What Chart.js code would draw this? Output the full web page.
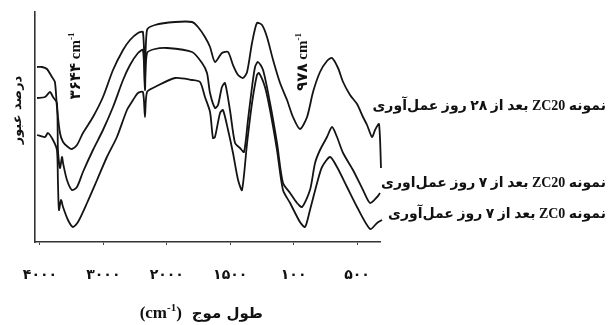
<!DOCTYPE html>
<html lang="fa">
  <head>
    <meta charset="UTF-8" />
    <title>طیف FTIR نمونه‌ها</title>
    <script src="https://cdn.jsdelivr.net/npm/chart.js"></script>
    <style>
      body {
        margin: 0;
        background: #fff;
      }
      #wrap {
        width: 609px;
        height: 325px;
      }
    </style>
  </head>
  <body>
    <div id="wrap"><canvas id="spectrum"></canvas></div>
    <script>
      // نمونه ZC20 بعد از ۲۸ روز
      const zc20d28Waves = [4046, 3968, 3890, 3810, 3764, 3732, 3684, 3636, 3558, 3496, 3416, 3322, 3164, 3006, 2848, 2690, 2580, 2454, 2376, 2344, 2312, 2186, 1935, 1801, 1754, 1699, 1659, 1620, 1565, 1517, 1478, 1438, 1399, 1367, 1328, 1289, 1249, 1210, 1162, 1107, 1052, 1005, 950, 894, 847, 792, 737, 697, 650, 610, 555, 500, 453, 421, 382, 358, 327, 311]
      const zc20d28Trans = [175, 175, 173, 165, 160, 135, 109, 100, 95, 93, 97, 109, 125, 145, 172, 192, 202, 209, 210, 160, 212, 217, 220, 220, 215, 205, 195, 180, 189, 190, 177, 167, 164, 170, 199, 219, 217, 205, 182, 159, 142, 125, 113, 125, 150, 170, 181, 184, 174, 160, 147, 138, 125, 117, 105, 112, 118, 74]

      // نمونه ZC20 بعد از ۷ روز
      const zc20d7Waves = [4046, 3920, 3842, 3794, 3732, 3716, 3684, 3652, 3636, 3574, 3496, 3416, 3322, 3164, 3006, 2848, 2690, 2580, 2454, 2376, 2344, 2312, 2186, 1998, 1801, 1722, 1683, 1659, 1620, 1596, 1565, 1541, 1502, 1462, 1423, 1391, 1360, 1328, 1304, 1281, 1241, 1186, 1131, 1084, 1028, 973, 934, 871, 831, 792, 737, 697, 658, 610, 532, 453, 397, 342, 319]
      const zc20d7Trans = [144, 145, 150, 145, 139, 92, 74, 85, 79, 62, 52, 55, 70, 92, 112, 135, 162, 177, 189, 192, 152, 189, 193, 194, 190, 179, 169, 149, 134, 137, 155, 159, 132, 99, 94, 90, 122, 155, 175, 180, 172, 139, 99, 59, 49, 39, 35, 52, 79, 92, 105, 115, 105, 89, 72, 52, 39, 45, 49]

      // نمونه ZC0 بعد از ۷ روز
      const zc0d7Waves = [4046, 3920, 3874, 3794, 3732, 3716, 3700, 3668, 3636, 3558, 3480, 3400, 3258, 3100, 2944, 2786, 2628, 2532, 2454, 2376, 2344, 2312, 2186, 1935, 1801, 1738, 1699, 1659, 1636, 1620, 1580, 1557, 1517, 1478, 1438, 1407, 1367, 1328, 1289, 1273, 1226, 1186, 1131, 1084, 1028, 950, 910, 871, 815, 776, 713, 658, 579, 500, 397, 342, 303]
      const zc0d7Trans = [107, 105, 109, 102, 92, 59, 32, 42, 35, 22, 15, 20, 39, 62, 85, 105, 132, 142, 149, 150, 125, 150, 155, 164, 162, 160, 145, 130, 104, 105, 129, 132, 112, 89, 62, 52, 99, 139, 167, 169, 155, 132, 92, 52, 39, 20, 15, 32, 59, 75, 85, 75, 55, 35, 13, 19, 22]

      const tickWaves = [4000, 3000, 2000, 1500, 1000, 500]
      const tickLabels = ['۴۰۰۰', '۳۰۰۰', '۲۰۰۰', '۱۵۰۰', '۱۰۰', '۵۰۰']

      const seriesNames = [
        'نمونه ZC20 بعد از ۲۸ روز عمل‌آوری',
        'نمونه ZC20 بعد از ۷ روز عمل‌اوری',
        'نمونه ZC0 بعد از ۷ روز عمل‌آوری',
      ]

      // بالای ۲۰۰۰ محور با نصف مقیاس رسم می‌شود
      function axisPos(w) {
        return w <= 2000 ? w : 2000 + (w - 2000) / 2
      }

      function toPoints(waves, trans) {
        return waves.map((w, i) => ({ x: axisPos(w), y: trans[i] }))
      }

      const serif = '"Liberation Serif", "DejaVu Sans"'

      // متن با cm و توان -1
      function cmText(ctx, before, after, cx, y, size) {
        const main = `bold ${size}px ${serif}`
        const sup = `bold ${Math.round(size * 0.62)}px "Liberation Serif"`
        ctx.direction = 'ltr'
        ctx.textAlign = 'left'
        ctx.font = main
        const a = ctx.measureText(before + 'cm').width
        const c = ctx.measureText(after).width
        ctx.font = sup
        const b = ctx.measureText('-1').width
        const x = cx - (a + b + c) / 2
        ctx.font = main
        ctx.fillText(before + 'cm', x, y)
        ctx.font = sup
        ctx.fillText('-1', x + a, y - size * 0.42)
        ctx.font = main
        ctx.fillText(after, x + a + b, y)
      }

      const notes = {
        id: 'notes',
        afterDraw(chart) {
          const ctx = chart.ctx
          ctx.save()
          ctx.fillStyle = '#111'
          ctx.textBaseline = 'alphabetic'

          // عنوان محور عمودی
          ctx.save()
          ctx.translate(17, 110)
          ctx.rotate(-Math.PI / 2)
          ctx.font = 'bold 13px "DejaVu Sans"'
          ctx.direction = 'rtl'
          ctx.textAlign = 'center'
          ctx.fillText('درصد عبور', 0, 4)
          ctx.restore()

          // برچسب پیک‌ها
          ctx.save()
          ctx.translate(75, 66)
          ctx.rotate(-Math.PI / 2)
          cmText(ctx, '۳۶۴۴ ', '', 0, 5, 15)
          ctx.restore()

          ctx.save()
          ctx.translate(302, 62)
          ctx.rotate(-Math.PI / 2)
          cmText(ctx, '۹۷۸ ', '', 0, 5, 15)
          ctx.restore()

          // نام نمونه‌ها
          ctx.font = `bold 14px ${serif}`
          ctx.direction = 'rtl'
          ctx.textAlign = 'right'
          ctx.fillText(seriesNames[0], 606, 110)
          ctx.fillText(seriesNames[1], 606, 187)
          ctx.fillText(seriesNames[2], 606, 218)

          // عنوان محور افقی
          ctx.font = 'bold 15px "DejaVu Sans"'
          const fa = 'طول موج'
          const wFa = ctx.measureText(fa).width
          ctx.direction = 'rtl'
          ctx.textAlign = 'right'
          ctx.fillText(fa, 263, 318)
          cmText(ctx, '(', ')', 263 - wFa - 31, 318, 17)
          ctx.restore()
        },
      }

      const lineStyle = {
        borderColor: '#141414',
        borderWidth: 1.8,
        pointRadius: 0,
        tension: 0.25,
        fill: false,
        clip: 6,
      }

      new Chart(document.getElementById('spectrum'), {
        type: 'line',
        data: {
          datasets: [
            { label: seriesNames[0], data: toPoints(zc20d28Waves, zc20d28Trans), ...lineStyle },
            { label: seriesNames[1], data: toPoints(zc20d7Waves, zc20d7Trans), ...lineStyle },
            { label: seriesNames[2], data: toPoints(zc0d7Waves, zc0d7Trans), ...lineStyle },
          ],
        },
        options: {
          responsive: true,
          maintainAspectRatio: false,
          animation: false,
          layout: { padding: { left: 35, top: 12, right: 229, bottom: 0 } },
          plugins: {
            legend: { display: false },
            tooltip: { enabled: false },
          },
          scales: {
            x: {
              type: 'linear',
              reverse: true,
              min: 319,
              max: 3039,
              afterBuildTicks: (scale) => {
                scale.ticks = tickWaves.map((w) => ({ value: axisPos(w) }))
              },
              afterFit: (scale) => {
                scale.height = 83
              },
              ticks: {
                callback: (v, i) => tickLabels[i],
                font: { family: 'DejaVu Sans', size: 14, weight: 'bold' },
                color: '#111',
                padding: 22,
                maxRotation: 0,
                autoSkip: false,
              },
              grid: { drawOnChartArea: false, tickLength: 3, color: '#444' },
              border: { display: true, color: '#333', width: 1.6 },
            },
            y: {
              min: 0,
              max: 230,
              afterFit: (scale) => {
                scale.width = 0
              },
              ticks: { display: false },
              grid: { display: false },
              border: { display: true, color: '#333', width: 1.6 },
            },
          },
        },
        plugins: [notes],
      })
    </script>
  </body>
</html>
